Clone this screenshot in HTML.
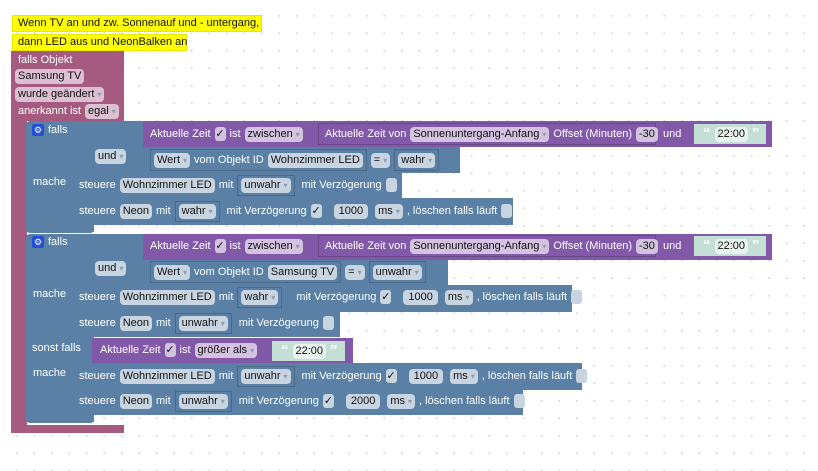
<!DOCTYPE html>
<html><head><meta charset="utf-8">
<style>
*{box-sizing:border-box;margin:0;padding:0}
body{width:818px;height:471px;overflow:hidden;position:relative;background:#fff;
background-image:radial-gradient(circle,#d4d4d4 0.9px,transparent 1.1px);background-size:17.5px 17.5px;background-position:8px 7px;
font-family:"Liberation Sans",Arial,sans-serif;font-size:11px}
.b{position:absolute}
.pk{background:#a55b80}
.bl{background:#5b80a5}
.pu{background:#8159a8}
.mi{background:#c4dfd5}
.ye{background:#ffff00;border:1px solid #e8e800}
.row{position:absolute;display:flex;align-items:center;gap:4px;white-space:nowrap;color:#fff;height:20px}
.f{display:inline-block;height:15px;line-height:15px;padding:0 3px;border-radius:4px;color:#111;background:#c8d4e0}
.pk .f,.fp{background:#dcbfd0}
.pp{background:#d3c2e0 !important}
.a{color:#8a9cb0;font-size:8px;margin-left:3px}
.cb{display:inline-block;width:11px;height:14px;border-radius:3px;background:#c8d4e0;color:#111;font-size:11px;line-height:14px;text-align:center}
.cbp{background:#d3c2e0}
.ol{display:flex;align-items:center;gap:4px;border:1px solid rgba(0,0,0,0.18);padding:2px 3px;height:22px}
.ob{position:absolute;border:1px solid rgba(0,0,0,0.2)}
.t{position:absolute;color:#fff;white-space:nowrap}
.ic{display:inline-block;width:12px;height:12px;background:#2450d8;border-radius:2px;color:#fff;font-size:9px;line-height:12px;text-align:center}
.n{padding:0 5px;margin-left:8px}
.ms{margin-left:3px}
.q{font-size:15px;font-weight:bold;color:#fff;line-height:12px}
</style></head><body>

<div class="b ye" style="left:12px;top:15px;width:250px;height:17px"></div>
<div class="t" style="left:18px;top:17px;color:#111">Wenn TV an und zw. Sonnenauf und - untergang,</div>
<div class="b ye" style="left:12px;top:34px;width:175px;height:17px"></div>
<div class="t" style="left:18px;top:36px;color:#111">dann LED aus und NeonBalken an</div>

<div class="b pk" style="left:11px;top:51px;width:113px;height:70px"></div>
<div class="b pk" style="left:11px;top:120px;width:16px;height:313px"></div>
<div class="b pk" style="left:11px;top:425px;width:113px;height:8px"></div>
<div class="t" style="left:18px;top:54px">falls Objekt</div>
<div class="row" style="left:15px;top:66px"><span class="f fp">Samsung TV</span></div>
<div class="row" style="left:15px;top:84px"><span class="f fp">wurde geändert<span class="a">▾</span></span></div>
<div class="row" style="left:18px;top:101px">anerkannt ist <span class="f fp">egal<span class="a">▾</span></span></div>

<!-- IF 1 -->
<div class="b bl" style="left:26px;top:121px;width:66px;height:112px;border-radius:4px 0 0 4px"></div>
<div class="b bl" style="left:92px;top:121px;width:52px;height:52px"></div>
<div class="b bl" style="left:92px;top:146px;width:368px;height:27px"></div>
<div class="row" style="left:32px;top:120px"><span class="ic">⚙</span> falls</div>
<div class="row" style="left:95px;top:146px"><span class="f">und<span class="a">▾</span></span></div>
<div class="t" style="left:33px;top:176px">mache</div>

<div class="b pu" style="left:143px;top:121px;width:629px;height:26px"></div>
<div class="row" style="left:150px;top:124px">Aktuelle Zeit <span class="cb cbp">✓</span> ist <span class="f pp">zwischen<span class="a">▾</span></span></div>
<div class="ob" style="left:318px;top:123px;width:338px;height:22px"></div>
<div class="row" style="left:325px;top:124px">Aktuelle Zeit von <span class="f pp">Sonnenuntergang-Anfang<span class="a">▾</span></span> Offset (Minuten) <span class="f pp">-30</span></div>
<div class="t" style="left:663px;top:128px">und</div>
<div class="b mi" style="left:694px;top:124px;width:72px;height:20px"></div>
<div class="row" style="left:703px;top:124px"><span class="q">“</span> <span class="f" style="background:#e8f3ee">22:00</span> <span class="q">”</span></div>

<div class="row" style="left:150px;top:149px;height:22px"><span class="ol"><span class="f">Wert<span class="a">▾</span></span> vom Objekt ID <span class="f">Wohnzimmer LED</span></span><span class="f">=<span class="a">▾</span></span><span class="ol"><span class="f">wahr<span class="a">▾</span></span></span></div>

<div class="b bl" style="left:72px;top:172px;width:330px;height:27px;border-radius:4px 0 0 0"></div>
<div class="b bl" style="left:72px;top:198px;width:441px;height:27px"></div>
<div class="b bl" style="left:72px;top:224px;width:22px;height:8px;border-radius:0 0 0 4px"></div>
<div class="row" style="left:79px;top:175px">steuere <span class="f">Wohnzimmer LED</span> mit <span class="ol" style="height:21px;margin-right:3px"><span class="f">unwahr<span class="a">▾</span></span></span> mit Verzögerung <span class="cb"></span></div>
<div class="row" style="left:79px;top:201px">steuere <span class="f">Neon</span> mit <span class="ol" style="height:21px;margin-right:3px"><span class="f">wahr<span class="a">▾</span></span></span> mit Verzögerung <span class="cb">✓</span> <span class="f n">1000</span> <span class="f ms">ms<span class="a">▾</span></span>, löschen falls läuft <span class="cb"></span></div>

<!-- IF 2 -->
<div class="b bl" style="left:26px;top:234px;width:66px;height:189px;border-radius:4px 0 0 4px"></div>
<div class="b bl" style="left:92px;top:234px;width:52px;height:52px"></div>
<div class="b bl" style="left:92px;top:259px;width:356px;height:27px"></div>
<div class="row" style="left:32px;top:232px"><span class="ic">⚙</span> falls</div>
<div class="row" style="left:95px;top:258px"><span class="f">und<span class="a">▾</span></span></div>
<div class="t" style="left:33px;top:288px">mache</div>

<div class="b pu" style="left:143px;top:234px;width:629px;height:26px"></div>
<div class="row" style="left:150px;top:236px">Aktuelle Zeit <span class="cb cbp">✓</span> ist <span class="f pp">zwischen<span class="a">▾</span></span></div>
<div class="ob" style="left:318px;top:235px;width:338px;height:22px"></div>
<div class="row" style="left:325px;top:236px">Aktuelle Zeit von <span class="f pp">Sonnenuntergang-Anfang<span class="a">▾</span></span> Offset (Minuten) <span class="f pp">-30</span></div>
<div class="t" style="left:663px;top:240px">und</div>
<div class="b mi" style="left:694px;top:236px;width:72px;height:20px"></div>
<div class="row" style="left:703px;top:236px"><span class="q">“</span> <span class="f" style="background:#e8f3ee">22:00</span> <span class="q">”</span></div>

<div class="row" style="left:150px;top:261px;height:22px"><span class="ol"><span class="f">Wert<span class="a">▾</span></span> vom Objekt ID <span class="f">Samsung TV</span></span><span class="f">=<span class="a">▾</span></span><span class="ol"><span class="f">unwahr<span class="a">▾</span></span></span></div>

<div class="b bl" style="left:72px;top:285px;width:500px;height:27px;border-radius:4px 0 0 0"></div>
<div class="b bl" style="left:72px;top:311px;width:268px;height:26px"></div>
<div class="b bl" style="left:72px;top:336px;width:22px;height:7px;border-radius:0 0 0 4px"></div>
<div class="row" style="left:79px;top:287px">steuere <span class="f">Wohnzimmer LED</span> mit <span class="ol" style="height:21px;margin-right:10px"><span class="f">wahr<span class="a">▾</span></span></span> mit Verzögerung <span class="cb">✓</span> <span class="f n">1000</span> <span class="f ms">ms<span class="a">▾</span></span>, löschen falls läuft <span class="cb"></span></div>
<div class="row" style="left:79px;top:313px">steuere <span class="f">Neon</span> mit <span class="ol" style="height:21px;margin-right:3px"><span class="f">unwahr<span class="a">▾</span></span></span> mit Verzögerung <span class="cb"></span></div>

<div class="t" style="left:32px;top:342px">sonst falls</div>
<div class="b pu" style="left:92px;top:338px;width:261px;height:26px"></div>
<div class="row" style="left:100px;top:340px">Aktuelle Zeit <span class="cb cbp">✓</span> ist <span class="f pp">größer als<span class="a">▾</span></span></div>
<div class="b mi" style="left:272px;top:341px;width:73px;height:20px"></div>
<div class="row" style="left:281px;top:341px"><span class="q">“</span> <span class="f" style="background:#e8f3ee">22:00</span> <span class="q">”</span></div>
<div class="t" style="left:33px;top:367px">mache</div>

<div class="b bl" style="left:72px;top:363px;width:510px;height:27px;border-radius:4px 0 0 0"></div>
<div class="b bl" style="left:72px;top:389px;width:451px;height:26px"></div>
<div class="b bl" style="left:72px;top:414px;width:22px;height:8px;border-radius:0 0 0 4px"></div>
<div class="row" style="left:79px;top:366px">steuere <span class="f">Wohnzimmer LED</span> mit <span class="ol" style="height:21px;margin-right:3px"><span class="f">unwahr<span class="a">▾</span></span></span> mit Verzögerung <span class="cb">✓</span> <span class="f n">1000</span> <span class="f ms">ms<span class="a">▾</span></span>, löschen falls läuft <span class="cb"></span></div>
<div class="row" style="left:79px;top:391px">steuere <span class="f">Neon</span> mit <span class="ol" style="height:21px;margin-right:3px"><span class="f">unwahr<span class="a">▾</span></span></span> mit Verzögerung <span class="cb">✓</span> <span class="f n">2000</span> <span class="f ms">ms<span class="a">▾</span></span>, löschen falls läuft <span class="cb"></span></div>

</body></html>
